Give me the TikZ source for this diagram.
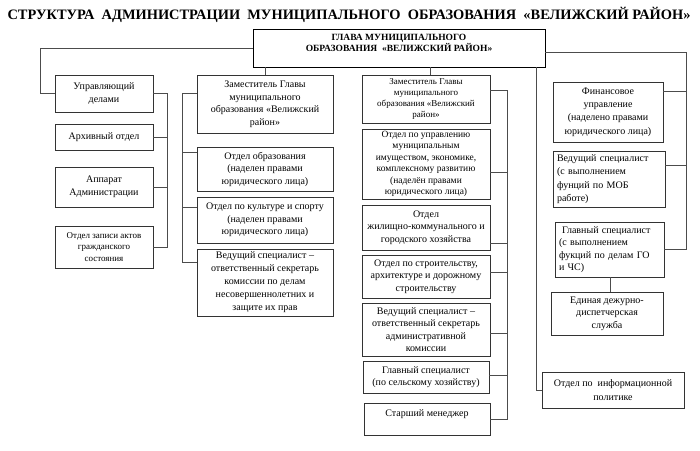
\documentclass[tikz,border=0pt]{standalone}
\usepackage{fontspec}
\setmainfont{Liberation Serif}
\newcommand\fsz[2]{\fontsize{#1}{#2}\selectfont}
\begin{document}
\begin{tikzpicture}[x=1pt,y=-1pt,
  box/.style={draw=black!80, line width=0.6pt, fill=white, align=center,
    inner sep=1pt, font=\fsz{10}{12.5}},
  wh/.style 2 args={minimum width=#1pt, minimum height=#2pt},
  small/.style={font=\fsz{9}{11.5}},
  lbox/.style={align=left, inner xsep=4pt, text width=#1pt},
  conn/.style={draw=black!70, line width=0.6pt},
  headbox/.style={draw=black, line width=0.9pt, fill=white, align=center,
    inner sep=1pt, font=\bfseries\fsz{9.5}{9.5}}]
\useasboundingbox (0,0) rectangle (700,450);

% title
\node[font=\bfseries\fsz{14.4}{16}] (title) at (349,15)
  {СТРУКТУРА\ \ АДМИНИСТРАЦИИ\ \ МУНИЦИПАЛЬНОГО\ \ ОБРАЗОВАНИЯ\ \ «ВЕЛИЖСКИЙ РАЙОН»};

% head
\node[headbox, wh={292}{38}] (head) at (399,48)
  {ГЛАВА МУНИЦИПАЛЬНОГО\\ОБРАЗОВАНИЯ\ \ «ВЕЛИЖСКИЙ РАЙОН»\\\mbox{}};

% column 1
\node[box, wh={98}{37}] (upr) at (104,93.5) {Управляющий\\делами};
\node[box, wh={98}{26}] (arch) at (104,137) {Архивный отдел};
\node[box, wh={98}{40}] (app) at (104,187) {Аппарат\\Администрации};
\node[box, wh={98}{42}, font=\fsz{9}{11.5}] (zags) at (104,247)
  {Отдел записи актов\\гражданского\\состояния};

% column 2
\node[box, wh={136}{58}] (zam1) at (265,104)
  {Заместитель Главы\\муниципального\\образования «Велижский\\район»};
\node[box, wh={136}{44}] (obr) at (265,169)
  {Отдел образования\\(наделен правами\\юридического лица)};
\node[box, wh={136}{46}] (cult) at (265,220)
  {Отдел по культуре и спорту\\(наделен правами\\юридического лица)};
\node[box, wh={136}{67}, font=\fsz{10}{13}] (ved1) at (265,282.5)
  {Ведущий специалист –\\ответственный секретарь\\комиссии по делам\\несовершеннолетних и\\защите их прав};

% column 3
\node[box, wh={128}{48}, font=\fsz{9}{11}] (zam2) at (426,99)
  {Заместитель Главы\\муниципального\\образования «Велижский\\район»};
\node[box, wh={128}{70}, font=\fsz{9.5}{11.5}] (imu) at (426,164)
  {Отдел по управлению\\муниципальным\\имуществом, экономике,\\комплексному развитию\\(наделён правами\\юридического лица)};
\node[box, wh={128}{45}, font=\fsz{10}{12.5}] (zhkh) at (426,227.5)
  {Отдел\\жилищно-коммунального и\\городского хозяйства};
\node[box, wh={128}{43}, font=\fsz{10}{12.5}] (str) at (426,276.5)
  {Отдел по строительству,\\архитектуре и дорожному\\строительству};
\node[box, wh={128}{53}] (ved2) at (426,329.5)
  {Ведущий специалист –\\ответственный секретарь\\административной\\комиссии};
\node[box, wh={126}{32}] (glav) at (426,377)
  {Главный специалист\\(по сельскому хозяйству)};
\node[box, wh={126}{32}] (star) at (427,419)
  {Старший менеджер\\\mbox{}};

% column 4
\node[box, wh={110}{60}, font=\fsz{10}{13.3}] (fin) at (608,112)
  {Финансовое\\управление\\(наделено правами\\юридического лица)};
\node[box, lbox=104, wh={112}{56}, font=\fsz{10}{13.3}] (mob) at (609,179)
  {Ведущий специалист\\(с выполнением\\фунций по МОБ\\работе)};
\node[box, lbox=101, wh={109}{55}, font=\fsz{10}{12.3}] (go) at (609.5,249.5)
  {\hspace{3pt}Главный специалист\\(с выполнением\\фукций по делам ГО\\и ЧС)};
\node[box, wh={112}{43}] (edds) at (607,313.5)
  {Единая дежурно-\\диспетчерская\\служба};
\node[box, wh={142}{36}, font=\fsz{10}{13.3}] (info) at (613,390)
  {Отдел по\ \ информационной\\политике};

% helper coordinates
\coordinate (v0) at (40,48);
\coordinate (v1) at (167,0);
\coordinate (v2) at (182,0);
\coordinate (v3) at (507,0);
\coordinate (v4) at (536,0);
\coordinate (v5) at (686,0);

% head -> column 1
\draw[conn] (head.west) -- (v0) -- (v0 |- upr.west) -- (upr.west);
% column 1 bracket
\draw[conn] (upr.east) -- (upr.east -| v1) -- (zags.east -| v1) -- (zags.east);
\draw[conn] (arch.east) -- (arch.east -| v1);
\draw[conn] (app.east) -- (app.east -| v1);

% head -> column 2
\draw[conn] (zam1.north |- head.south) -- (zam1.north);
\coordinate (t21) at ([yshift=11pt]zam1.west);
\coordinate (t22) at ([yshift=17pt]obr.west);
\coordinate (t23) at ([yshift=13pt]cult.west);
\coordinate (t24) at ([yshift=20pt]ved1.west);
\draw[conn] (t21) -- (t21 -| v2) -- (t24 -| v2) -- (t24);
\draw[conn] (t22) -- (t22 -| v2);
\draw[conn] (t23) -- (t23 -| v2);

% head -> column 3
\draw[conn] ([xshift=4pt]zam2.north |- head.south) -- ([xshift=4pt]zam2.north);
\coordinate (t31) at ([yshift=9pt]zam2.east);
\coordinate (t32) at ([yshift=-8pt]imu.east);
\coordinate (t33) at ([yshift=-15.5pt]zhkh.east);
\coordinate (t34) at ([yshift=4.5pt]str.east);
\coordinate (t35) at ([yshift=-3.5pt]ved2.east);
\coordinate (t36) at ([yshift=2pt]glav.east);
\coordinate (t37) at (star.east);
\draw[conn] (t31) -- (t31 -| v3) -- (t37 -| v3) -- (t37);
\draw[conn] (t32) -- (t32 -| v3);
\draw[conn] (t33) -- (t33 -| v3);
\draw[conn] (t34) -- (t34 -| v3);
\draw[conn] (t35) -- (t35 -| v3);
\draw[conn] (t36) -- (t36 -| v3);

% head -> column 4 (left branch)
\draw[conn] (v4 |- head.south) -- (v4 |- info.west) -- (info.west);
% head -> column 4 (right branch)
\coordinate (h4) at ([yshift=-4pt]head.east);
\coordinate (t41) at ([yshift=21pt]fin.east);
\coordinate (t42) at ([yshift=14pt]mob.east);
\coordinate (t43) at (go.east);
\draw[conn] (h4) -- (h4 -| v5) -- (t43 -| v5) -- (t43);
\draw[conn] (t41) -- (t41 -| v5);
\draw[conn] (t42) -- (t42 -| v5);
\draw[conn] ([xshift=0.5pt]go.south) -- ([xshift=0.5pt]go.south |- edds.north);
\end{tikzpicture}
\end{document}
